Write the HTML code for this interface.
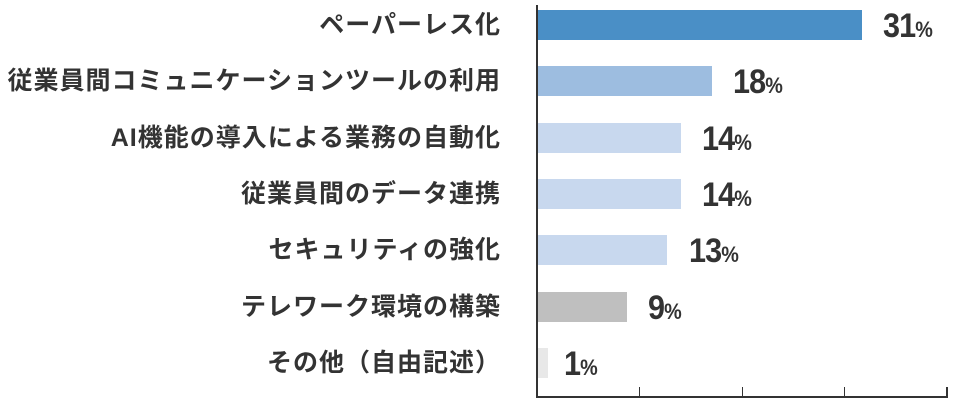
<!DOCTYPE html>
<html><head><meta charset="utf-8"><style>
body{margin:0;width:960px;height:409px;background:#fff;position:relative;overflow:hidden;font-family:"Liberation Sans","Noto Sans CJK JP",sans-serif;color:#333}
.l{position:absolute;right:459px;font-size:25px;font-weight:bold;letter-spacing:1px;white-space:nowrap;line-height:30px}
.b{position:absolute;left:538px;height:30px}
.v{position:absolute;font-family:"Liberation Sans Narrow","Liberation Sans",sans-serif;font-weight:bold;font-size:34px;line-height:30px;color:#333;letter-spacing:-1px;transform:scaleX(0.9);transform-origin:left center}
.v span{font-size:22px}
.ax{position:absolute;background:#333}
</style></head><body>
<div class="ax" style="left:536px;top:5px;width:2px;height:393px"></div>
<div class="ax" style="left:536px;top:396px;width:412px;height:2px"></div>
<div class="ax" style="left:639px;top:387px;width:1px;height:10px"></div>
<div class="ax" style="left:742px;top:387px;width:1px;height:10px"></div>
<div class="ax" style="left:844px;top:387px;width:1px;height:10px"></div>
<div class="ax" style="left:946px;top:387px;width:2px;height:10px"></div>

<div class="l" style="top:10px">ペーパーレス化</div>
<div class="b" style="top:10px;width:324px;background:#4a8fc6"></div>
<div class="v" style="top:11px;left:883px">31<span>%</span></div>

<div class="l" style="top:66px">従業員間コミュニケーションツールの利用</div>
<div class="b" style="top:66px;width:174px;background:#9dbde0"></div>
<div class="v" style="top:67px;left:733px">18<span>%</span></div>

<div class="l" style="top:123px">AI機能の導入による業務の自動化</div>
<div class="b" style="top:123px;width:143px;background:#c8d8ee"></div>
<div class="v" style="top:124px;left:702px">14<span>%</span></div>

<div class="l" style="top:179px">従業員間のデータ連携</div>
<div class="b" style="top:179px;width:143px;background:#c8d8ee"></div>
<div class="v" style="top:180px;left:702px">14<span>%</span></div>

<div class="l" style="top:235px">セキュリティの強化</div>
<div class="b" style="top:235px;width:129px;background:#c8d8ee"></div>
<div class="v" style="top:236px;left:689px">13<span>%</span></div>

<div class="l" style="top:292px">テレワーク環境の構築</div>
<div class="b" style="top:292px;width:89px;background:#bfbfbf"></div>
<div class="v" style="top:293px;left:648px">9<span>%</span></div>

<div class="l" style="top:348px">その他（自由記述）</div>
<div class="b" style="top:348px;width:10px;background:#e8e8e8"></div>
<div class="v" style="top:349px;left:564px">1<span>%</span></div>
</body></html>
